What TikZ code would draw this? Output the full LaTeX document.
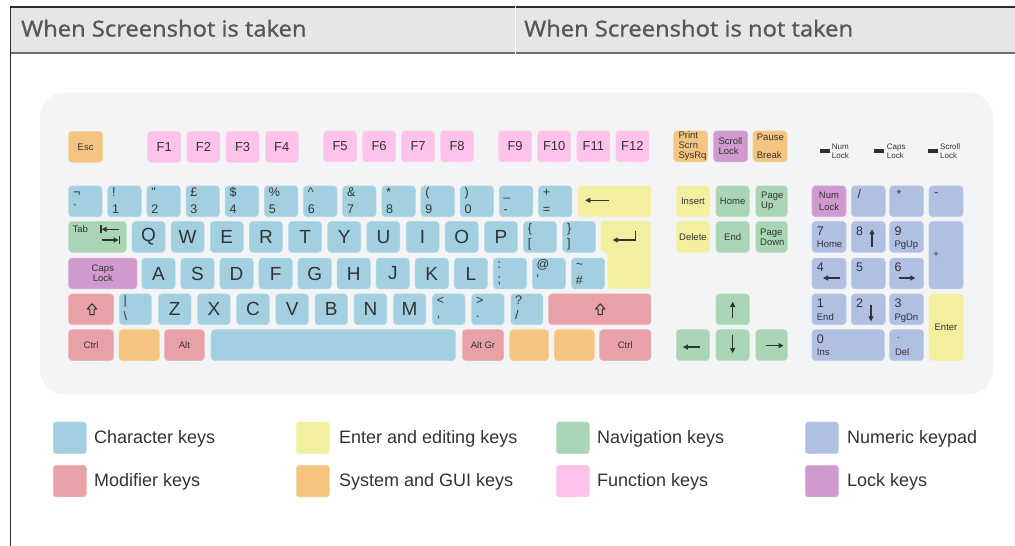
\documentclass[tikz,border=0pt]{standalone}
\usepackage{fontspec}
\setmainfont{Liberation Sans}
\newfontfamily\kf{Liberation Sans}
\newfontfamily\hf{Open Sans}[FakeBold=1.2,FakeStretch=1.08]
\usetikzlibrary{calc,arrows.meta}
\definecolor{charc}{HTML}{A3D0E1}
\definecolor{modc}{HTML}{E8A1A6}
\definecolor{editc}{HTML}{F2EF9E}
\definecolor{sysc}{HTML}{F3C580}
\definecolor{navc}{HTML}{A9D5B5}
\definecolor{func}{HTML}{FFC3EB}
\definecolor{numc}{HTML}{B1BFE2}
\definecolor{lockc}{HTML}{D09ACF}
\definecolor{kbbg}{HTML}{F3F4F6}
\definecolor{hdrbg}{HTML}{E6E6E6}
\definecolor{txt}{HTML}{333333}
\definecolor{hdrtxt}{HTML}{575757}
\definecolor{hdrtop}{HTML}{2E2E2E}
\definecolor{hdrbot}{HTML}{707070}
\newcommand\LF{\kf\fontsize{19}{20}\selectfont}
\newcommand\FK{\kf\fontsize{13}{14}\selectfont}
% key: [opts]{name}{x}{y}{w}{h}{colour}{label}
\newcommand\K[8][]{\node[key,fill=#7,draw=#7!80!white,minimum width=#5pt,minimum height=#6pt,#1] (#2) at ({#3},{#4}) {#8};}
% two-character labels
\newcommand\TC[4]{\node[lab,anchor=base west] (#1t) at ($(#1.north west)+(4.5,11)$) {#2};
  \node[lab,anchor=base west] (#1b) at ($(#1.north west)+(4.5,#4)$) {#3};}
% left label
\newcommand\KL[3]{\node[sm,anchor=west,align=left] (#1l) at ($(#1.west)+(#2,0)$) {#3};}
% numpad labels
\newcommand\NP[3]{\node[lab,anchor=base west] (#1d) at ($(#1.north west)+(5,14)$) {#2};
  \node[sm,anchor=base west] (#1s) at ($(#1.north west)+(5,26.5)$) {#3};}
\begin{document}
\begin{tikzpicture}[x=1pt,y=-1pt,
  key/.style={rounded corners=3.5pt,inner sep=0pt,anchor=north west,text=txt,line width=0.6pt,
    font=\kf\fontsize{9.5}{10.5}\selectfont},
  lab/.style={inner sep=0pt,text=txt,font=\kf\fontsize{12.5}{14}\selectfont},
  sm/.style={inner sep=0pt,text=txt,font=\kf\fontsize{9.5}{10}\selectfont},
  ind/.style={inner sep=0pt,text=txt,font=\kf\fontsize{8}{9}\selectfont},
  led/.style={fill=txt!90!black,minimum width=9.7pt,minimum height=3.3pt,inner sep=0pt},
  hdr/.style={inner sep=0pt,text=hdrtxt,font=\hf\fontsize{22}{24}\selectfont},
  ar/.style={draw=txt,line width=1.3pt,-{Triangle[length=5pt,width=5pt]}},
  bar/.style={draw=txt,line width=1.3pt},
  shiftsym/.style={draw=txt,line width=1pt,line join=round},
  lgsq/.style={rounded corners=3pt,inner sep=0pt,minimum width=33pt,minimum height=31.6pt,anchor=north west,line width=0.6pt},
  lgtx/.style={inner sep=0pt,anchor=base west,text=txt,font=\kf\fontsize{18}{20}\selectfont}]
\useasboundingbox (0,0) rectangle (1015,546);
% header
\fill[hdrbg] (10,7) rectangle (1015,53);
\draw[line width=2pt,hdrtop] (10,7) -- (1015,7);
\draw[line width=2.4pt,hdrbot] (10,53) -- (1015,53);
\draw[line width=1.6pt,hdrtop] (10.5,6) -- (10.5,546);
\draw[white,line width=1pt] (515,5.5) -- (515,54.5);
\node[hdr,anchor=base west] (h1) at (21,36.5) {When Screenshot is taken};
\node[hdr,anchor=base west] (h2) at (524,36.5) {When Screenshot is not taken};
% keyboard background
\fill[kbbg,rounded corners=25pt] (40,92.5) rectangle (993,394.5);
% function row
\K{esc}{68.3}{131}{34}{31}{sysc}{Esc}
\foreach \i in {1,...,4} {\K[font=\FK]{f\i}{147.4+(\i-1)*39.2}{131}{33}{31}{func}{F\i}}
\foreach \i in {5,...,8} {\K[font=\FK]{f\i}{323.3+(\i-5)*39}{130.5}{33}{31}{func}{F\i}}
\foreach \i in {9,...,12} {\K[font=\FK]{f\i}{498.3+(\i-9)*39.1}{130.5}{33}{31}{func}{F\i}}
% system keys
\K{prt}{673.3}{130.5}{34}{31}{sysc}{} \KL{prt}{5}{Print\\Scrn\\SysRq}
\K{scr}{713.3}{130.5}{34}{31}{lockc}{} \KL{scr}{5}{Scroll\\Lock}
\K{pau}{752.7}{130.5}{34}{31}{sysc}{} \KL{pau}{4}{Pause\\[8pt]Break}
% indicators
\node[led] (led1) at (825.2,151) {};
\node[ind,anchor=west,align=left] (led1t) at (831.7,150.8) {Num\\Lock};
\node[led] (led2) at (879.2,151) {};
\node[ind,anchor=west,align=left] (led2t) at (886.7,150.8) {Caps\\Lock};
\node[led] (led3) at (933,151) {};
\node[ind,anchor=west,align=left] (led3t) at (940,150.8) {Scroll\\Lock};
% number row
\foreach \t/\b [count=\i from 0] in {¬/`,!/1,"/2,£/3,\$/4,\%/5,\textasciicircum/6,\&/7,*/8}
 {\K{n\i}{68.3+\i*39.15}{185.6}{33.5}{30.8}{charc}{} \TC{n\i}{\t}{\b}{27.5}}
\K{n9}{68.3+9*39.15}{185.6}{33.5}{30.8}{charc}{} \TC{n9}{(}{9}{27.5}
\K{n10}{68.3+10*39.15}{185.6}{33.5}{30.8}{charc}{} \TC{n10}{)}{0}{27.5}
\K{n11}{68.3+11*39.15}{185.6}{33.5}{30.8}{charc}{} \TC{n11}{\_}{-}{27.5}
\K{n12}{68.3+12*39.15}{185.6}{33.5}{30.8}{charc}{} \TC{n12}{+}{=}{27.5}
\K{bksp}{577.25}{185.6}{73.35}{30.8}{editc}{}
\draw[ar] ($(bksp.center)+(-5.6,-1)$) -- ($(bksp.center)+(-28.9,-1)$);
% qwerty row
\K{tab}{68.3}{221.2}{57.7}{30.8}{navc}{}
\node[sm,anchor=base west] (tabl) at ($(tab.north west)+(4,11.1)$) {Tab};
\draw[ar] ($(tab.north west)+(50.7,8.1)$) -- ($(tab.north west)+(33.4,8.1)$);
\draw[bar] ($(tab.north west)+(32.7,4.1)$) -- ($(tab.north west)+(32.7,12.1)$);
\draw[ar] ($(tab.north west)+(33.4,18.8)$) -- ($(tab.north west)+(50.2,18.8)$);
\draw[bar] ($(tab.north west)+(50.9,14.8)$) -- ($(tab.north west)+(50.9,22.8)$);
\foreach \c [count=\i from 0] in {Q,W,E,R,T,Y,U,I,O,P}
 {\K[font=\LF]{k\c}{131.7+\i*39.15}{221.2}{33}{30.8}{charc}{\c}}
\K{klb}{131.7+10*39.15}{221.2}{33}{30.8}{charc}{} \TC{klb}{\{}{[}{26.5}
\K{krb}{131.7+11*39.15}{221.2}{33}{30.8}{charc}{} \TC{krb}{\}}{]}{26.5}
\path[fill=editc,draw=editc!80!white,line width=0.6pt,rounded corners=3.5pt]
  (601,221.2) -- (650.6,221.2) -- (650.6,288.6) -- (608,288.6) -- (608,252) -- (601,252) -- cycle;
\coordinate (ent) at (601,221.2);
\draw[ar] ($(ent)+(34.7,9.5)$) -- ($(ent)+(34.7,18.8)$) -- ($(ent)+(11.7,18.8)$);
% asdf row
\K{caps}{68.3}{257.8}{68.4}{30.8}{lockc}{} 
\node[sm,align=center] (capsl) at (caps.center) {Caps\\Lock};
\foreach \c [count=\i from 0] in {A,S,D,F,G,H,J,K,L}
 {\K[font=\LF]{k\c}{141.5+\i*39.05}{257.8}{33.3}{30.8}{charc}{\c}}
\K{ksc}{141.5+9*39.05}{257.8}{33.3}{30.8}{charc}{} \TC{ksc}{:}{;}{26}
\K{kat}{141.5+10*39.05}{257.8}{33.3}{30.8}{charc}{} \TC{kat}{@}{'}{26}
\K{kti}{141.5+11*39.05}{257.8}{33.3}{30.8}{charc}{} \TC{kti}{\textasciitilde}{\#}{26.5}
% zxcv row
\K{lsh}{68.3}{293.6}{45}{30.8}{modc}{}
\draw[shiftsym] ($(lsh.center)+(0.9,-5.5)$) -- ++(4.7,5.2) -- ++(-2.6,0) -- ++(0,5.5) -- ++(-4.2,0) -- ++(0,-5.5) -- ++(-2.6,0) -- cycle;
\K{kbs}{119}{293.6}{32}{30.8}{charc}{} \TC{kbs}{|}{\textbackslash}{26.5}
\foreach \c [count=\i from 1] in {Z,X,C,V,B,N,M}
 {\K[font=\LF]{k\c}{119+\i*39.15}{293.6}{32.5}{30.8}{charc}{\c}}
\K{kcm}{119+8*39.15}{293.6}{32.5}{30.8}{charc}{} \TC{kcm}{<}{,}{23.5}
\K{kpt}{119+9*39.15}{293.6}{32.5}{30.8}{charc}{} \TC{kpt}{>}{.}{23.5}
\K{ksl}{119+10*39.15}{293.6}{32}{30.8}{charc}{} \TC{ksl}{?}{/}{26}
\K{rsh}{548.3}{293.6}{102.3}{30.8}{modc}{}
\draw[shiftsym] ($(rsh.center)+(0.5,-5.5)$) -- ++(4.7,5.2) -- ++(-2.6,0) -- ++(0,5.5) -- ++(-4.2,0) -- ++(0,-5.5) -- ++(-2.6,0) -- cycle;
% bottom row
\K{lctl}{68.3}{329.4}{45}{30.8}{modc}{Ctrl}
\K{lwin}{118.7}{329.4}{40.3}{30.8}{sysc}{}
\K{lalt}{164.3}{329.4}{39.7}{30.8}{modc}{Alt}
\K{spc}{210.7}{329.4}{244.6}{30.8}{charc}{}
\K{ralt}{462}{329.4}{41.3}{30.8}{modc}{Alt Gr}
\K{rwin}{509.3}{329.4}{39}{30.8}{sysc}{}
\K{menu}{554}{329.4}{40}{30.8}{sysc}{}
\K{rctl}{599.3}{329.4}{51.3}{30.8}{modc}{Ctrl}
% navigation cluster
\K{ins}{676}{185.6}{33.3}{30.8}{editc}{Insert}
\K{home}{715.7}{185.6}{33.3}{30.8}{navc}{Home}
\K{pgup}{755.5}{185.6}{31.5}{30.8}{navc}{} \KL{pgup}{5.5}{Page\\Up}
\K{del}{676}{221.2}{33.3}{30.8}{editc}{Delete}
\K{end}{715.7}{221.2}{33.3}{30.8}{navc}{End}
\K{pgdn}{755.5}{221.2}{31.5}{30.8}{navc}{} \KL{pgdn}{4.5}{Page\\Down}
\K{up}{715.7}{293.6}{33.3}{30.8}{navc}{}
\K{left}{676}{329.4}{33.3}{30.8}{navc}{}
\K{down}{715.7}{329.4}{33.3}{30.8}{navc}{}
\K{right}{755.5}{329.4}{31.5}{30.8}{navc}{}
\draw[ar] ($(up.center)+(0,9)$) -- ($(up.center)+(0,-7.5)$);
\draw[ar] ($(left.center)+(6.6,2)$) -- ($(left.center)+(-10,2)$);
\draw[ar] ($(down.center)+(0,-9.8)$) -- ($(down.center)+(0,8)$);
\draw[ar] ($(right.center)+(-5.3,0.5)$) -- ($(right.center)+(12,0.5)$);
% numeric keypad
\K{nlk}{811.7}{185.6}{34}{30.8}{lockc}{}
\node[sm,align=center,font=\kf\fontsize{9.5}{12}\selectfont] (nlkl) at (nlk.center) {Num\\Lock};
\K{ndiv}{851}{185.6}{34}{30.8}{numc}{}
\node[lab,anchor=base west] (ndivl) at ($(ndiv.north west)+(6.5,12.5)$) {/};
\K{nmul}{889.3}{185.6}{34}{30.8}{numc}{}
\node[lab,anchor=base west] (nmull) at ($(nmul.north west)+(7,13)$) {*};
\K{nsub}{928.7}{185.6}{34}{30.8}{numc}{}
\node[lab,anchor=base west] (nsubl) at ($(nsub.north west)+(5.5,11)$) {-};
\K{kp7}{811.7}{221.2}{34}{30.8}{numc}{} \NP{kp7}{7}{Home}
\K{kp8}{851}{221.2}{34}{30.8}{numc}{} \NP{kp8}{8}{}
\K{kp9}{889.3}{221.2}{34}{30.8}{numc}{} \NP{kp9}{9}{PgUp}
\K{nadd}{928.7}{221.2}{34}{67.4}{numc}{}
\node[sm,anchor=west] (naddl) at ($(nadd.north west)+(4.5,34)$) {+};
\K{kp4}{811.7}{257.8}{34}{30.8}{numc}{} \NP{kp4}{4}{}
\K{kp5}{851}{257.8}{34}{30.8}{numc}{} \NP{kp5}{5}{}
\K{kp6}{889.3}{257.8}{34}{30.8}{numc}{} \NP{kp6}{6}{}
\K{kp1}{811.7}{293.6}{34}{30.8}{numc}{} \NP{kp1}{1}{End}
\K{kp2}{851}{293.6}{34}{30.8}{numc}{} \NP{kp2}{2}{}
\K{kp3}{889.3}{293.6}{34}{30.8}{numc}{} \NP{kp3}{3}{PgDn}
\K{nent}{928.7}{293.6}{34}{66.6}{editc}{Enter}
\K{kp0}{811.7}{329.4}{72.3}{30.8}{numc}{} \NP{kp0}{0}{Ins}
\K{ndot}{889.3}{329.4}{34}{30.8}{numc}{}
\node[sm,anchor=base west] (ndotl) at ($(ndot.north west)+(7.5,9)$) {.};
\node[sm,anchor=base west] (ndots) at ($(ndot.north west)+(5.5,26.5)$) {Del};
\draw[ar] ($(kp8.center)+(3.7,10.1)$) -- ($(kp8.center)+(3.7,-7.6)$);
\draw[ar] ($(kp4.center)+(10.6,4.5)$) -- ($(kp4.center)+(-6,4.5)$);
\draw[ar] ($(kp6.center)+(-8,4.5)$) -- ($(kp6.center)+(8.7,4.5)$);
\draw[ar] ($(kp2.center)+(2.7,-4.7)$) -- ($(kp2.center)+(2.7,12)$);
% legend
\node[lgsq,fill=charc,draw=charc!80!white] (lg1) at (53,421.7) {};
\node[lgtx] (lt1) at (94,443) {Character keys};
\node[lgsq,fill=modc,draw=modc!80!white] (lg2) at (53,465) {};
\node[lgtx] (lt2) at (94,486.5) {Modifier keys};
\node[lgsq,fill=editc,draw=editc!80!white] (lg3) at (296,421.7) {};
\node[lgtx] (lt3) at (339,443) {Enter and editing keys};
\node[lgsq,fill=sysc,draw=sysc!80!white] (lg4) at (296,465) {};
\node[lgtx] (lt4) at (339,486.5) {System and GUI keys};
\node[lgsq,fill=navc,draw=navc!80!white] (lg5) at (556,421.7) {};
\node[lgtx] (lt5) at (597,443) {Navigation keys};
\node[lgsq,fill=func,draw=func!80!white] (lg6) at (556,465) {};
\node[lgtx] (lt6) at (597,486.5) {Function keys};
\node[lgsq,fill=numc,draw=numc!80!white] (lg7) at (805,421.7) {};
\node[lgtx] (lt7) at (847,443) {Numeric keypad};
\node[lgsq,fill=lockc,draw=lockc!80!white] (lg8) at (805,465) {};
\node[lgtx] (lt8) at (847,486.5) {Lock keys};
\end{tikzpicture}
\end{document}
